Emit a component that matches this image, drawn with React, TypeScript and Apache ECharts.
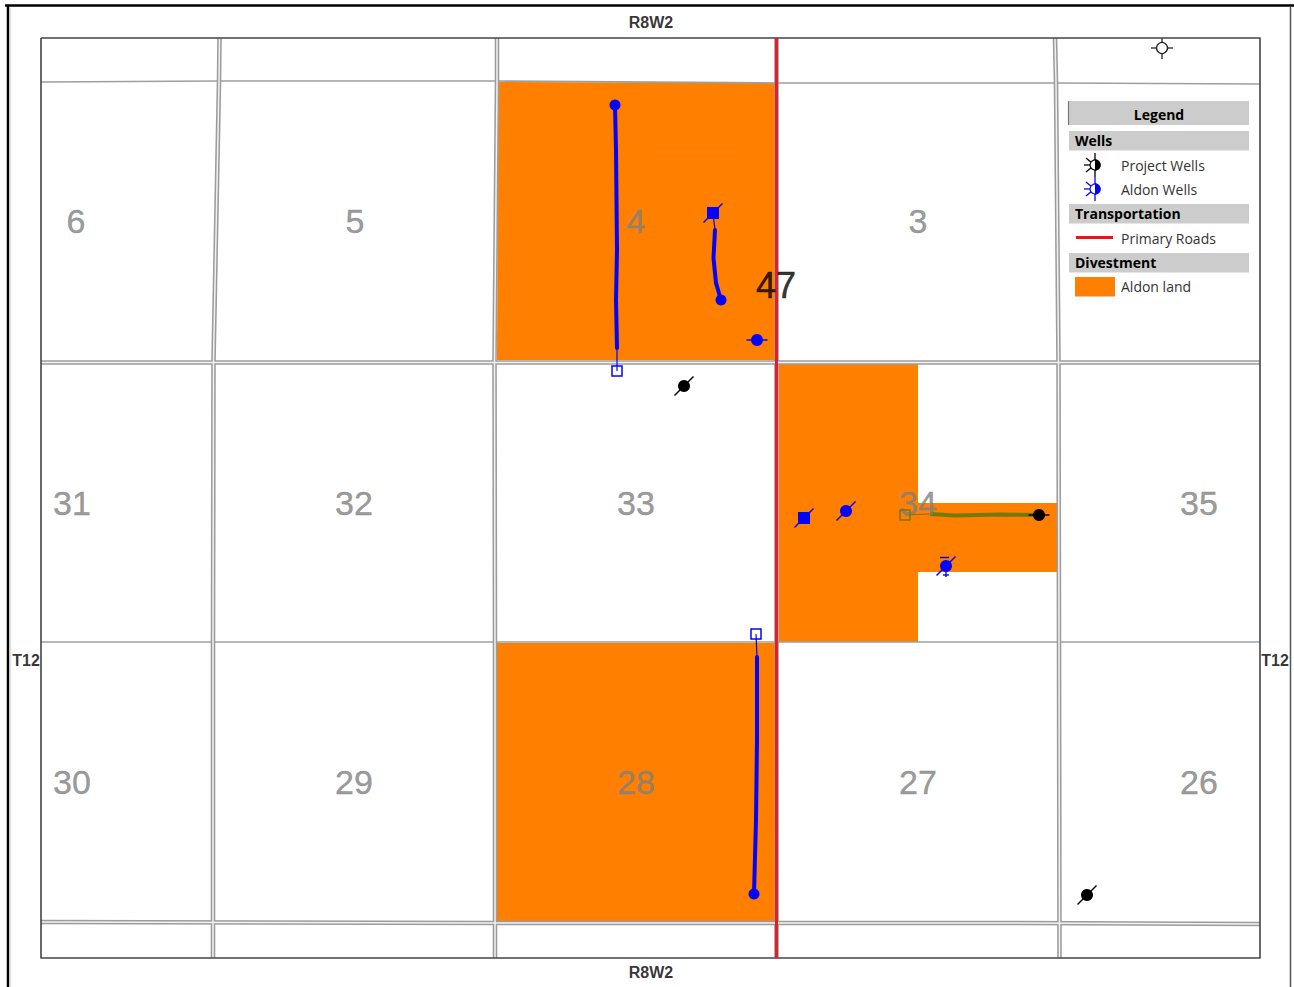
import React, { useEffect, useRef } from "react";
import * as echarts from "echarts";

type Pt = number[];

const WIDTH = 1294;
const HEIGHT = 987;

const sectionLabels: [string, number, number][] = [
  ["6", 76, 221], ["5", 355, 221], ["4", 636, 221], ["3", 918, 221],
  ["31", 72, 503], ["32", 354, 503], ["33", 636, 503], ["34", 918, 503], ["35", 1199, 503],
  ["30", 72, 782], ["29", 354, 782], ["28", 636, 782], ["27", 918, 782], ["26", 1199, 782],
];
const townshipLabel: [string, number, number][] = [["47", 776, 285]];
const rangeLabels: [string, number, number][] = [
  ["R8W2", 651, 22], ["R8W2", 651, 972], ["T12", 26, 660], ["T12", 1275, 660],
];

const aldonLand: Pt[][] = [
  [[498, 82], [775, 83], [775, 360], [497, 360]],
  [[497, 643], [776, 643], [776, 921], [496, 921]],
  [[779, 364], [918, 364], [918, 503], [1057, 503], [1057, 572], [918, 572], [918, 642], [779, 642]],
];
const landSeam: Pt[] = [[650, 152], [735, 152]];

const doubleSectionLines: Pt[][] = [
  [[219.5, 38], [219, 82], [213.5, 361], [213, 642], [213, 958]],
  [[497, 38], [497, 82], [494.5, 361], [495, 642], [495, 958]],
  [[1055, 38], [1056, 82], [1058.5, 361], [1059, 642], [1059.5, 958]],
  [[776.5, 38], [776.5, 958]],
  [[41, 362.5], [500, 362.5], [1000, 362.5], [1260, 362.5]],
  [[41, 922], [500, 923], [1000, 923], [1260, 924]],
];
const singleSectionLines: Pt[][] = [
  [[41, 82], [218, 81], [497, 81], [778, 83], [1058, 83], [1260, 84]],
  [[41, 642], [500, 642], [1000, 642], [1260, 642]],
];
const mapFrame: Pt[] = [[41, 38], [1260, 38], [1260, 958], [41, 958], [41, 38]];
const primaryRoad: Pt[] = [[776.5, 38], [776.5, 958]];

const blueBores: Pt[][] = [
  [[615, 105], [616, 150], [617, 250], [616, 300], [617, 348]],
  [[715, 230], [713.5, 258], [716, 283], [721, 300]],
  [[757, 657], [757, 740], [756, 820], [754, 894]],
];
const blueBoreLeads: Pt[][] = [
  [[617, 348], [617, 371]],
  [[713, 213], [715, 230]],
  [[756, 634], [757, 657]],
];
const oliveBore: Pt[] = [[930, 514], [955, 515.5], [1000, 514.5], [1039, 515]];
const oliveLead: Pt[] = [[905, 515], [930, 514]];

const blueCircleSlash: Pt[] = [[846, 511]];
const blueCircleArrow: Pt[] = [[946, 566]];
const blueCirclePlain: Pt[] = [[615, 105], [721, 300], [754, 894]];
const blueCircleDash: Pt[] = [[757, 340]];
const blueSquareSlash: Pt[] = [[713, 213], [804, 518]];
const blackCircleSlash: Pt[] = [[684, 386], [1087, 895]];
const blackCircleDash: Pt[] = [[1039, 515]];
const blueOpenSquares: Pt[] = [[617, 371], [756, 634]];
const oliveOpenSquares: Pt[] = [[905, 515]];

const legendTitle = "Legend";
const legendHeaders: [string, number][] = [["Wells", 140], ["Transportation", 213], ["Divestment", 262]];
const legendItems: [string, number][] = [["Project Wells", 165], ["Aldon Wells", 189], ["Primary Roads", 238], ["Aldon land", 286]];

const ORANGE = "#ff7f00";
const BLUE = "#0505f5";
const OLIVE = "#75780a";
const RED = "#f0101a";
const GREY = "#9c9c9c";

const lineSeries = (pts: Pt[], color: string, width: number, z: number, cap = "butt") => ({
  type: "line",
  data: pts,
  showSymbol: false,
  symbol: "none",
  silent: true,
  clip: false,
  z,
  lineStyle: { color, width, cap, join: "round" },
});

const labelSeries = (items: [string, number, number][], color: string, font: any, z: number, weight = 0) => ({
  type: "scatter",
  data: items.map((d) => ({ value: [d[1], d[2]], name: d[0] })),
  symbolSize: 0,
  silent: true,
  clip: false,
  z,
  label: {
    show: true,
    position: "inside",
    align: "center",
    verticalAlign: "middle",
    color,
    textBorderWidth: weight,
    textBorderColor: weight ? color : "transparent",
    textShadowBlur: 0,
    formatter: (p: any) => p.name,
    ...font,
  },
});

const wellSeries = (
  pts: Pt[],
  shape: "circle" | "square" | "open",
  tick: "slash" | "dash" | "arrow" | "none",
  color: string,
  size: number
) => ({
  type: "custom",
  data: pts,
  silent: true,
  clip: false,
  z: 8,
  encode: { x: 0, y: 1 },
  renderItem: (_p: any, api: any) => {
    const [cx, cy] = api.coord([api.value(0), api.value(1)]);
    const children: any[] = [];
    const tickStyle = { stroke: color, lineWidth: 1.4 };
    if (tick === "slash" || tick === "arrow") {
      children.push({ type: "line", shape: { x1: cx - 9.5, y1: cy + 9.5, x2: cx + 9.5, y2: cy - 9.5 }, style: tickStyle });
    }
    if (tick === "arrow") {
      children.push({ type: "line", shape: { x1: cx - 6, y1: cy - 8.5, x2: cx + 3, y2: cy - 8.5 }, style: tickStyle });
      children.push({ type: "line", shape: { x1: cx, y1: cy + 5, x2: cx, y2: cy + 11 }, style: tickStyle });
      children.push({ type: "line", shape: { x1: cx - 3, y1: cy + 9, x2: cx + 3, y2: cy + 9 }, style: tickStyle });
    }
    if (tick === "dash") {
      children.push({ type: "line", shape: { x1: cx - 10.5, y1: cy, x2: cx + 10.5, y2: cy }, style: tickStyle });
    }
    if (shape === "circle") {
      children.push({ type: "circle", shape: { cx, cy, r: size }, style: { fill: color } });
    } else if (shape === "square") {
      children.push({ type: "rect", shape: { x: cx - size, y: cy - size, width: size * 2, height: size * 2 }, style: { fill: color } });
    } else {
      children.push({
        type: "rect",
        shape: { x: cx - size, y: cy - size, width: size * 2, height: size * 2 },
        style: { fill: "none", stroke: color, lineWidth: 1.5 },
      });
    }
    return { type: "group", children };
  },
});

const legendWell = (cx: number, cy: number, color: string) => [
  { type: "line", shape: { x1: cx, y1: cy - 12, x2: cx, y2: cy + 12 }, style: { stroke: color, lineWidth: 1.3 } },
  { type: "line", shape: { x1: cx - 11, y1: cy, x2: cx, y2: cy }, style: { stroke: color, lineWidth: 1.3 } },
  { type: "line", shape: { x1: cx - 9, y1: cy - 7, x2: cx - 3, y2: cy - 2 }, style: { stroke: color, lineWidth: 1.3 } },
  { type: "line", shape: { x1: cx - 9, y1: cy + 7, x2: cx - 3, y2: cy + 2 }, style: { stroke: color, lineWidth: 1.3 } },
  { type: "circle", shape: { cx, cy, r: 5 }, style: { fill: "#fff", stroke: color, lineWidth: 1.2 } },
  { type: "sector", shape: { cx, cy, r: 5.8, r0: 0, startAngle: -Math.PI / 2, endAngle: Math.PI / 2 }, style: { fill: color } },
];

const legendFont = '"Open Sans", sans-serif';
const mapFont = '"Liberation Sans", Arial, sans-serif';

const buildOption = () => ({
  animation: false,
  backgroundColor: "#ffffff",
  grid: { left: 0, right: 0, top: 0, bottom: 0, containLabel: false },
  xAxis: { type: "value", min: 0, max: WIDTH, show: false },
  yAxis: { type: "value", min: 0, max: HEIGHT, inverse: true, show: false },
  tooltip: { show: false },
  series: [
    {
      type: "custom",
      data: aldonLand.map((p) => p[0]),
      silent: true,
      clip: false,
      z: 1,
      encode: { x: 0, y: 1 },
      renderItem: (params: any, api: any) => ({
        type: "polygon",
        shape: { points: aldonLand[params.dataIndex].map((p) => api.coord(p)) },
        style: { fill: ORANGE },
      }),
    },
    lineSeries(landSeam, "#ff8a1c", 1, 2),
    ...singleSectionLines.map((l) => lineSeries(l, "#9f9f9f", 1.7, 2)),
    ...doubleSectionLines.map((l) => lineSeries(l, GREY, 4.6, 2)),
    ...doubleSectionLines.map((l) => lineSeries(l, "#f2f2f2", 1.5, 3)),
    lineSeries(mapFrame, "#454545", 1.6, 4),
    lineSeries(primaryRoad, "#e0202a", 3, 5),
    ...blueBores.map((l) => lineSeries(l, BLUE, 4, 6, "round")),
    ...blueBoreLeads.map((l) => lineSeries(l, BLUE, 1.2, 6)),
    lineSeries(oliveBore, OLIVE, 4, 6),
    lineSeries(oliveLead, OLIVE, 1.2, 6),
    labelSeries(sectionLabels, "#808080", { fontFamily: mapFont, fontSize: 34 }, 7, 0.4),
    labelSeries(townshipLabel, "#000000", { fontFamily: mapFont, fontSize: 36 }, 9, 0.5),
    labelSeries(rangeLabels, "#000000", { fontFamily: mapFont, fontSize: 16, fontWeight: "bold" }, 9),
    wellSeries(blueCirclePlain, "circle", "none", BLUE, 5.5),
    wellSeries(blueCircleSlash, "circle", "slash", BLUE, 6),
    wellSeries(blueCircleArrow, "circle", "arrow", BLUE, 6),
    wellSeries(blueCircleDash, "circle", "dash", BLUE, 6),
    wellSeries(blueSquareSlash, "square", "slash", BLUE, 6),
    wellSeries(blackCircleSlash, "circle", "slash", "#000000", 6),
    wellSeries(blackCircleDash, "circle", "dash", "#000000", 6),
    wellSeries(blueOpenSquares, "open", "none", BLUE, 5),
    wellSeries(oliveOpenSquares, "open", "none", OLIVE, 5),
  ],
  graphic: [
    { type: "line", shape: { x1: 5, y1: 5.5, x2: 1294, y2: 5.5 }, style: { stroke: "#000", lineWidth: 2.5 } },
    { type: "line", shape: { x1: 8, y1: 5, x2: 8, y2: 987 }, style: { stroke: "#000", lineWidth: 2.5 } },
    { type: "line", shape: { x1: 10.5, y1: 8, x2: 10.5, y2: 987 }, style: { stroke: "#e2e2e2", lineWidth: 1.5 } },
    { type: "line", shape: { x1: 1290.5, y1: 7, x2: 1290.5, y2: 987 }, style: { stroke: "#555", lineWidth: 1.5 } },
    { type: "line", shape: { x1: 1151, y1: 48, x2: 1173, y2: 48 }, style: { stroke: "#222", lineWidth: 1.3 } },
    { type: "line", shape: { x1: 1162, y1: 38, x2: 1162, y2: 59 }, style: { stroke: "#222", lineWidth: 1.3 } },
    { type: "circle", shape: { cx: 1162, cy: 48, r: 5.5 }, style: { fill: "#fff", stroke: "#222", lineWidth: 1.3 } },
    { type: "rect", shape: { x: 1069, y: 101, width: 180, height: 24 }, style: { fill: "#cccccc" } },
    { type: "line", shape: { x1: 1068.5, y1: 101, x2: 1068.5, y2: 125 }, style: { stroke: "#777", lineWidth: 1.2 } },
    {
      type: "text", x: 1159, y: 114,
      style: { text: legendTitle, fill: "#000", font: `bold 14px ${legendFont}`, textAlign: "center", textVerticalAlign: "middle" },
    },
    ...legendHeaders.flatMap(([t, y]) => [
      { type: "rect", shape: { x: 1069, y: y - 9, width: 180, height: 19.5 }, style: { fill: "#cccccc" } },
      {
        type: "text", x: 1075, y,
        style: { text: t, fill: "#000", font: `bold 14px ${legendFont}`, textAlign: "left", textVerticalAlign: "middle" },
      },
    ]),
    ...legendItems.map(([t, y]) => ({
      type: "text", x: 1121, y,
      style: { text: t, fill: "#333", font: `14px ${legendFont}`, textAlign: "left", textVerticalAlign: "middle" },
    })),
    ...legendWell(1095, 165, "#000000"),
    ...legendWell(1095, 189, BLUE),
    { type: "line", shape: { x1: 1076, y1: 237.5, x2: 1113, y2: 237.5 }, style: { stroke: RED, lineWidth: 2.8 } },
    { type: "rect", shape: { x: 1075, y: 277, width: 40, height: 19.5 }, style: { fill: ORANGE } },
  ],
});

export default function App() {
  const ref = useRef<HTMLDivElement>(null);
  useEffect(() => {
    document.body.style.margin = "0";
    document.body.style.overflow = "hidden";
    const chart = echarts.init(ref.current!, undefined, { renderer: "svg", width: WIDTH, height: HEIGHT });
    chart.setOption(buildOption() as any);
    return () => chart.dispose();
  }, []);
  return <div ref={ref} style={{ width: WIDTH, height: HEIGHT, position: "absolute", left: 0, top: 0 }} />;
}
